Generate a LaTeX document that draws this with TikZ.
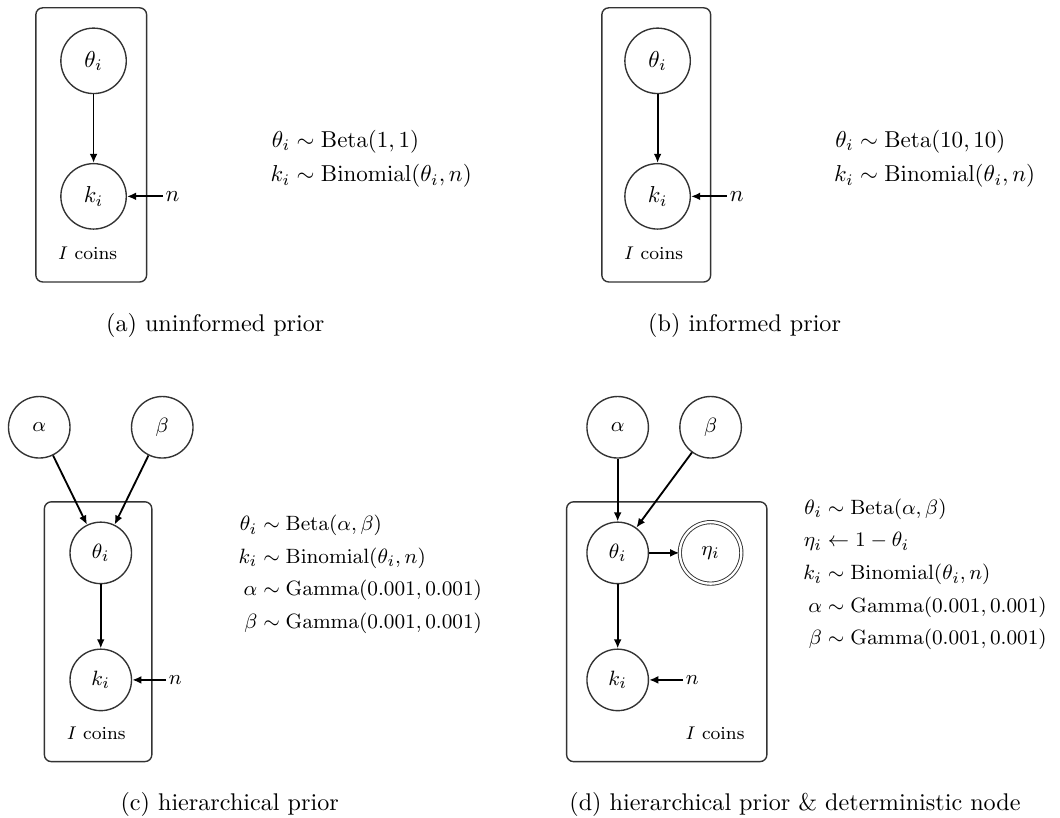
\documentclass[tikz,border=0pt]{standalone}
\usepackage{amsmath,amssymb}
\usetikzlibrary{arrows.meta,positioning,fit}

\begin{document}
\begin{tikzpicture}[
  font=\normalsize,
  >={Latex[length=1.4mm,width=1.2mm]},
  % ── stochastic variable (circle) ─────────────────────────────────────────
  rv/.style={circle, draw=black!80, semithick, minimum size=1cm, inner sep=0pt},
  % ── same, for the slightly smaller lower panels ──────────────────────────
  rvs/.style={rv, minimum size=0.94cm, font=\fontsize{9.35pt}{11.2pt}\selectfont},
  % ── deterministic variable (double circle) ───────────────────────────────
  detv/.style={rvs, thin, double, double distance=1pt},
  % ── constant input ───────────────────────────────────────────────────────
  fixedv/.style={inner sep=1pt},
  % ── plate + its label ────────────────────────────────────────────────────
  plate/.style={draw=black!80, semithick, rounded corners=3pt, inner sep=0.3cm},
  platelabel/.style={font=\footnotesize, inner sep=1pt},
  % ── model equations / captions ───────────────────────────────────────────
  eqs/.style={anchor=west, inner sep=0pt},
  eqss/.style={eqs, font=\fontsize{9.35pt}{11.2pt}\selectfont},
  subcap/.style={font=\fontsize{10.5pt}{12.6pt}\selectfont},
  % ── arrows ───────────────────────────────────────────────────────────────
  arr/.style={->, thick},
]
\useasboundingbox (0,0) rectangle (16.2,12.5);

%% ── (a) uninformed prior ──────────────────────────────────────────────────
\node[rv] (ta) at (1.43,11.57) {$\theta_i$};
\node[rv] (ka) [below=1.05cm of ta] {$k_i$};
\node[fixedv] (na) [right=0.55cm of ka] {$n$};
\node[platelabel] (la) at (1.34,8.63) {$I$ coins};
\node[plate, fit=(ta)(ka)(la)] (pa) {};
\draw[arr] (ta) -- (ka);
\draw[arr] (na) -- (ka);
\node[eqs] (ea) at (4.13,10.07)
  {$\begin{aligned}\theta_i &\sim \mathrm{Beta}(1,1)\\
    k_i &\sim \mathrm{Binomial}(\theta_i,n)\end{aligned}$};
\node[subcap] (ca) at (3.29,7.52) {(a) uninformed prior};

%% ── (b) informed prior ────────────────────────────────────────────────────
\node[rv] (tb) at (10.05,11.57) {$\theta_i$};
\node[rv] (kb) [below=1.05cm of tb] {$k_i$};
\node[fixedv] (nb) [right=0.55cm of kb] {$n$};
\node[platelabel] (lb) at (9.99,8.63) {$I$ coins};
\node[plate, fit=(tb)(kb)(lb)] (pb) {};
\draw[arr] (tb) -- (kb);
\draw[arr] (nb) -- (kb);
\node[eqs] (eb) at (12.74,10.07)
  {$\begin{aligned}\theta_i &\sim \mathrm{Beta}(10,10)\\
    k_i &\sim \mathrm{Binomial}(\theta_i,n)\end{aligned}$};
\node[subcap] (cb) at (11.38,7.52) {(b) informed prior};

%% ── (c) hierarchical prior ────────────────────────────────────────────────
\node[rvs] (alc) at (0.60,5.97) {$\alpha$};
\node[rvs] (bec) at (2.48,5.97) {$\beta$};
\node[rvs] (tc) at (1.54,4.05) {$\theta_i$};
\node[rvs] (kc) [below=0.98cm of tc] {$k_i$};
\node[fixedv, font=\fontsize{9.35pt}{11.2pt}\selectfont] (nc) [right=0.52cm of kc] {$n$};
\node[platelabel] (lc) at (1.47,1.30) {$I$ coins};
\node[plate, fit=(tc)(kc)(lc)] (pc) {};
\draw[arr] (alc) -- (tc);
\draw[arr] (bec) -- (tc);
\draw[arr] (tc) -- (kc);
\draw[arr] (nc) -- (kc);
\node[eqss] (ec) at (3.64,3.72)
  {$\begin{aligned}\theta_i &\sim \mathrm{Beta}(\alpha,\beta)\\
    k_i &\sim \mathrm{Binomial}(\theta_i,n)\\
    \alpha &\sim \mathrm{Gamma}(0.001,0.001)\\
    \beta &\sim \mathrm{Gamma}(0.001,0.001)\end{aligned}$};
\node[subcap] (cc) at (3.51,0.20) {(c) hierarchical prior};

%% ── (d) hierarchical prior & deterministic node ───────────────────────────
\node[rvs] (ald) at (9.44,5.97) {$\alpha$};
\node[rvs] (bed) at (10.86,5.97) {$\beta$};
\node[rvs] (td) at (9.44,4.05) {$\theta_i$};
\node[detv] (ed) at (10.86,4.05) {$\eta_i$};
\node[rvs] (kd) [below=0.98cm of td] {$k_i$};
\node[fixedv, font=\fontsize{9.35pt}{11.2pt}\selectfont] (nd) [right=0.52cm of kd] {$n$};
\node[platelabel, anchor=east] (ld) at (11.42,1.30) {$I$ coins};
\node[plate, fit=(td)(ed)(kd)(ld)] (pd) {};
\draw[arr] (ald) -- (td);
\draw[arr] (bed) -- (td);
\draw[arr] (td) -- (ed);
\draw[arr] (td) -- (kd);
\draw[arr] (nd) -- (kd);
\node[eqss] (eqd) at (12.27,3.72)
  {$\begin{aligned}\theta_i &\sim \mathrm{Beta}(\alpha,\beta)\\
    \eta_i &\leftarrow 1-\theta_i\\
    k_i &\sim \mathrm{Binomial}(\theta_i,n)\\
    \alpha &\sim \mathrm{Gamma}(0.001,0.001)\\
    \beta &\sim \mathrm{Gamma}(0.001,0.001)\end{aligned}$};
\node[subcap] (cd) at (12.15,0.20) {(d) hierarchical prior \& deterministic node};

\end{tikzpicture}
\end{document}
